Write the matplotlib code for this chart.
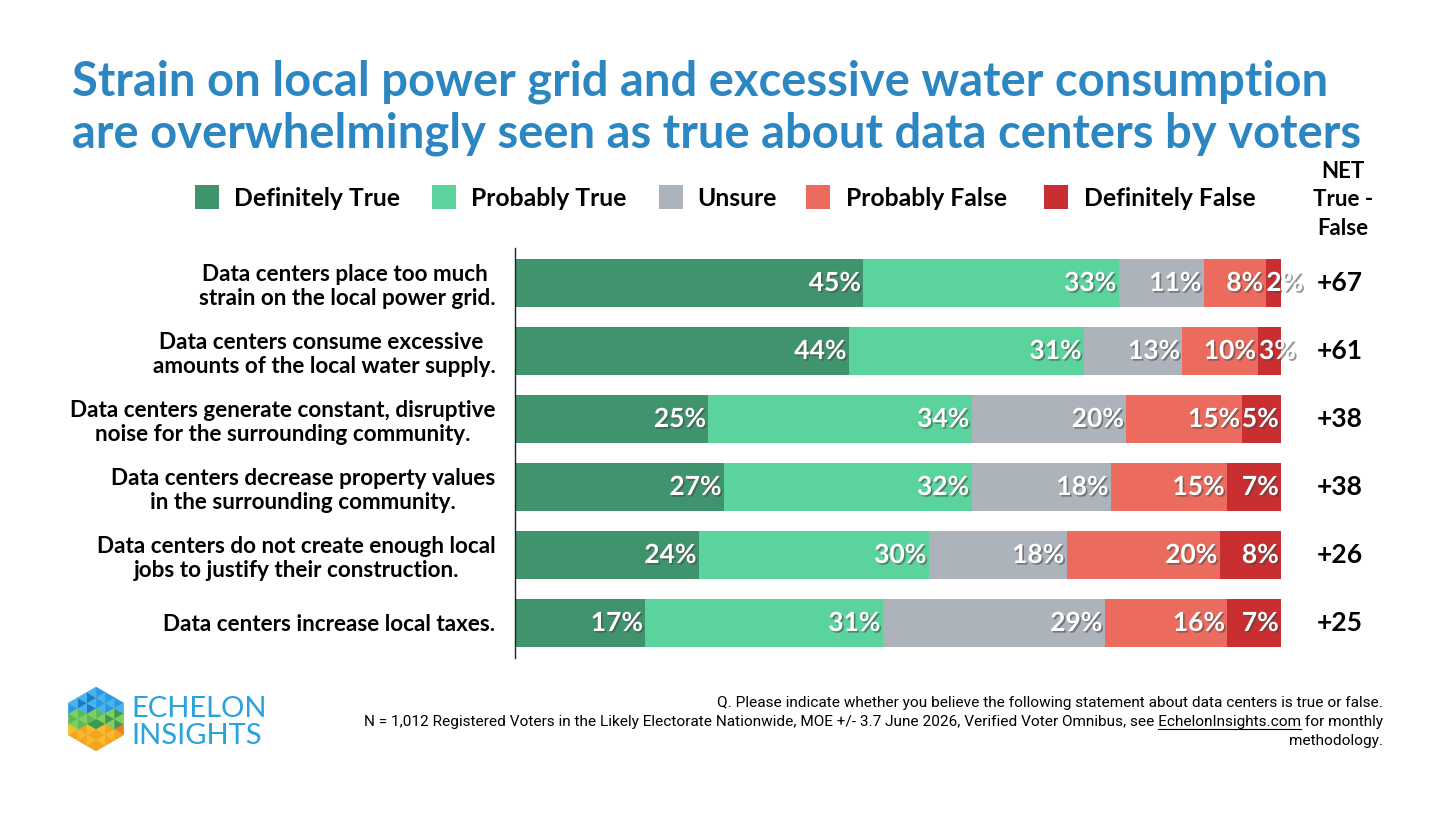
import numpy as np
import matplotlib
matplotlib.use("Agg")
import matplotlib.pyplot as plt
import matplotlib.patheffects as pe
from matplotlib.patches import Rectangle, Polygon

plt.rcParams["font.family"] = ["Lato", "DejaVu Sans"]

CATEGORIES = [
    "Data centers place too much \nstrain on the local power grid.",
    "Data centers consume excessive \namounts of the local water supply.",
    "Data centers generate constant, disruptive\nnoise for the surrounding community.",
    "Data centers decrease property values\nin the surrounding community.",
    "Data centers do not create enough local\njobs to justify their construction.",
    "Data centers increase local taxes.",
]
SERIES = ["Definitely True", "Probably True", "Unsure", "Probably False", "Definitely False"]
DEF_TRUE = [45, 44, 25, 27, 24, 17]
PROB_TRUE = [33, 31, 34, 32, 30, 31]
UNSURE = [11, 13, 20, 18, 18, 29]
PROB_FALSE = [8, 10, 15, 15, 20, 16]
DEF_FALSE = [2, 3, 5, 7, 8, 7]
NET = ["+67", "+61", "+38", "+38", "+26", "+25"]

COLORS = ["#3f936d", "#5ad39c", "#adb3ba", "#ec6b5f", "#c92e31"]
TITLE_COLOR = "#2b86c2"
NOTE_FONT = ["Roboto", "DejaVu Sans"]

W, H, DPI = 1456, 819, 100
fig = plt.figure(figsize=(W / DPI, H / DPI), dpi=DPI)
fig.patch.set_facecolor("white")

# overlay in pixel coordinates for title, legend, notes and logo
ov = fig.add_axes([0, 0, 1, 1])
ov.set_xlim(0, W)
ov.set_ylim(H, 0)
ov.axis("off")

ov.text(72, 95, "Strain on local power grid and excessive water consumption",
        fontsize=33.9, fontweight="bold", color=TITLE_COLOR, va="baseline")
ov.text(72, 147, "are overwhelmingly seen as true about data centers by voters",
        fontsize=33.9, fontweight="bold", color=TITLE_COLOR, va="baseline")

# legend
leg_box_x = [195, 432, 659, 806, 1044]
leg_text_x = [234, 471, 697, 846, 1084]
for name, col, bx, tx in zip(SERIES, COLORS, leg_box_x, leg_text_x):
    ov.add_patch(Rectangle((bx, 185), 24, 24, facecolor=col, edgecolor="none"))
    ov.text(tx, 206, name, fontsize=17.8, fontweight="bold", color="black", va="baseline")

for txt, yy in zip(["NET", "True -", "False"], [178, 206, 235]):
    ov.text(1343, yy, txt, fontsize=16, fontweight="bold", ha="center", va="baseline")

# bar chart
left_px, right_px, top_px, bot_px = 515, 1281, 248, 658
ax = fig.add_axes([left_px / W, 1 - bot_px / H, (right_px - left_px) / W, (bot_px - top_px) / H])
data = np.array([DEF_TRUE, PROB_TRUE, UNSURE, PROB_FALSE, DEF_FALSE], dtype=float)
totals = data.sum(axis=0)
shares = data / totals * 100
y = np.arange(len(CATEGORIES))
left = np.zeros(len(CATEGORIES))
shadow = [pe.SimplePatchShadow(offset=(1.2, -1.2), shadow_rgbFace="#444444", alpha=0.55), pe.Normal()]
for k in range(len(SERIES)):
    ax.barh(y, shares[k], left=left, height=0.706, color=COLORS[k], edgecolor="none")
    for i in range(len(CATEGORIES)):
        end = left[i] + shares[k][i]
        label = f"{int(data[k][i])}%"
        if data[k][i] < 4:
            ax.text(left[i] + 0.1, y[i], label, ha="left", va="center", color="white",
                    fontsize=19, fontweight="bold", path_effects=shadow, clip_on=False)
        else:
            ax.text(end - 0.3, y[i], label, ha="right", va="center", color="white",
                    fontsize=19, fontweight="bold", path_effects=shadow)
    left += shares[k]

for i, n in enumerate(NET):
    ax.text(107.7, y[i], n, ha="center", va="center", fontsize=19, fontweight="bold",
            color="black", clip_on=False)

ax.set_xlim(0, 100)
ax.set_ylim(len(CATEGORIES) - 0.485, -0.515)
ax.set_yticks(y)
ax.set_yticklabels(CATEGORIES, fontsize=16.2, fontweight="bold", multialignment="center")
ax.tick_params(axis="y", length=0, pad=14)
ax.set_xticks([])
for s in ["top", "right", "bottom"]:
    ax.spines[s].set_visible(False)
ax.spines["left"].set_color("#222222")
ax.spines["left"].set_linewidth(1.0)
ax.patch.set_alpha(0)

# footnote
note_x = 1383
note_fs = 11.1
ov.text(note_x, 707, "Q. Please indicate whether you believe the following statement about data centers is true or false.",
        fontsize=note_fs, family=NOTE_FONT, ha="right", va="baseline")
line2 = ("N = 1,012 Registered Voters in the Likely Electorate Nationwide, MOE +/- 3.7 June 2026, "
         "Verified Voter Omnibus, see EchelonInsights.com for monthly")
t2 = ov.text(note_x, 726, line2, fontsize=note_fs, family=NOTE_FONT, ha="right", va="baseline")
ov.text(note_x, 745, "methodology.", fontsize=note_fs, family=NOTE_FONT, ha="right", va="baseline")

renderer = fig.canvas.get_renderer()
full_w = t2.get_window_extent(renderer).width
link = "EchelonInsights.com"
upto = line2[:line2.index(link) + len(link)]
tmp = ov.text(0, 0, upto, fontsize=note_fs, family=NOTE_FONT)
upto_w = tmp.get_window_extent(renderer).width
tmp.set_text(link)
link_w = tmp.get_window_extent(renderer).width
tmp.remove()
x0 = note_x - full_w
ov.plot([x0 + upto_w - link_w, x0 + upto_w], [728.5, 728.5], color="black", lw=0.8)

# logo
cx, cy, R = 96, 719, 32
verts = [(R * np.cos(np.radians(a)), R * np.sin(np.radians(a))) for a in [90, 30, -30, -90, -150, 150]]
palettes = {
    "blue": ["#1a7dc2", "#2a9ae0", "#47b2ec"],
    "green": ["#3e9a4e", "#5db95a", "#7fcf5b"],
    "orange": ["#f3a51f", "#f7bb2c", "#ee7b22"],
}
n = 3
for s in range(6):
    A = np.array(verts[s])
    B = np.array(verts[(s + 1) % 6])
    P = lambda i, j: (i / n) * A + (j / n) * B
    tris = []
    for i in range(n):
        for j in range(n - i):
            tris.append(([P(i, j), P(i + 1, j), P(i, j + 1)], 0))
            if i + j <= n - 2:
                tris.append(([P(i + 1, j), P(i + 1, j + 1), P(i, j + 1)], 1))
    for pts, ori in tris:
        c = np.mean(pts, axis=0)
        if c[1] > R * 0.3:
            pal = palettes["blue"]
        elif c[1] < -R * 0.3:
            pal = palettes["orange"]
        else:
            pal = palettes["green"]
        idx = (s + ori + (1 if c[0] > 0 else 0)) % 3
        ov.add_patch(Polygon([(cx + p[0], cy - p[1]) for p in pts], closed=True,
                             facecolor=pal[idx], edgecolor=pal[idx], lw=0.3))
ov.text(131, 717, "ECHELON", fontsize=21, fontweight="normal", color="#29a3dc", va="baseline")
ov.text(131, 744, "INSIGHTS", fontsize=21, fontweight="normal", color="#29a3dc", va="baseline")

fig.savefig("out.png", dpi=DPI, facecolor="white")
